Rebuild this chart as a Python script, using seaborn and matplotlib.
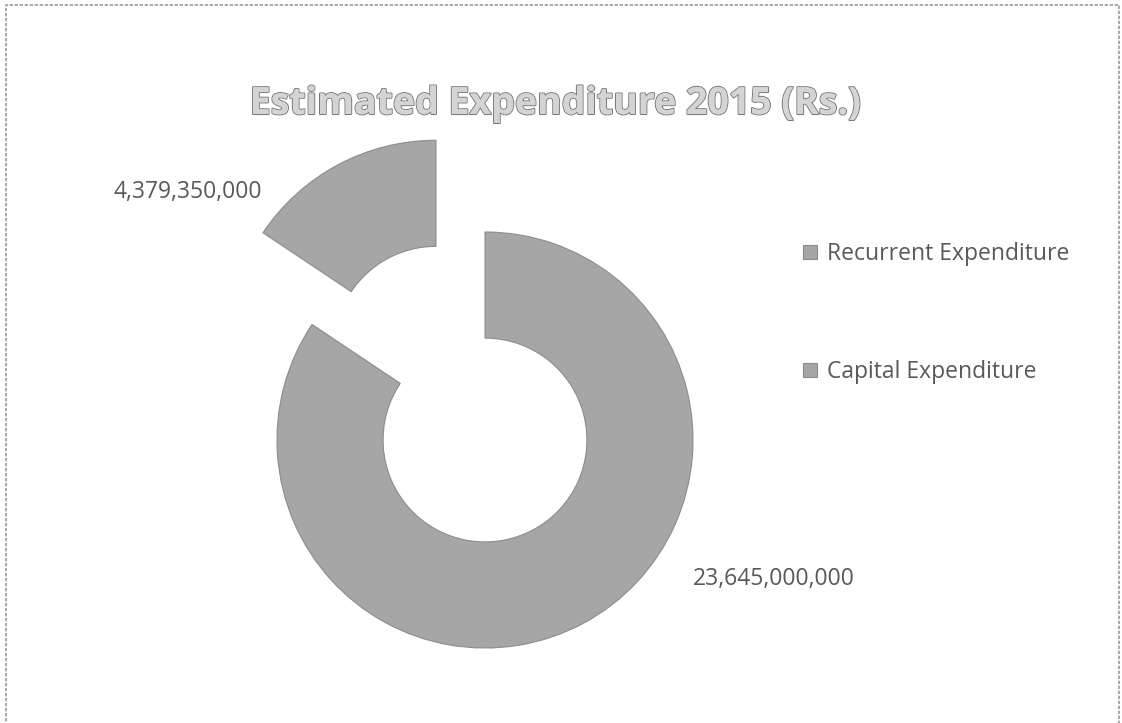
import matplotlib
matplotlib.use("Agg")
import matplotlib.pyplot as plt
import matplotlib.patheffects as pe
from matplotlib.patches import Rectangle
import seaborn as sns

# ─── Data ─────────────────────────────────────────────────────────────────────
categories = ["Recurrent Expenditure", "Capital Expenditure"]
amounts = [23645000000, 4379350000]
explode = [0.0, 0.5]

sns.set_theme(style="white")
plt.rcParams["font.family"] = ["Open Sans", "DejaVu Sans"]

SLICE = "#a6a6a6"
TEXT = "#595959"

fig = plt.figure(figsize=(11.22, 7.23), dpi=100)
W, H = 1122, 723

# pie centre (485, 440) px from top-left, radius 208 px
cx, cy, R = 485, 440, 208
xl, xr, yb, yt = -1.6, 1.6, -1.3, 1.6
ax = fig.add_axes([(cx + xl * R) / W, (H - cy + yb * R) / H,
                   (xr - xl) * R / W, (yt - yb) * R / H])

wedges, _ = ax.pie(amounts, startangle=90, counterclock=False, explode=explode,
                   colors=[SLICE, SLICE], radius=1.0,
                   wedgeprops=dict(width=0.51, edgecolor="#8c8c8c", linewidth=0.8))
ax.set_xlim(xl, xr)
ax.set_ylim(yb, yt)
ax.set_aspect("auto")
ax.axis("off")

# data labels
lbl_fmt = [f"{v:,}" for v in amounts]
ax.text(1.0, -0.67, lbl_fmt[0], ha="left", va="center", fontsize=16.5, color=TEXT)
ax.text(-1.07, 1.19, lbl_fmt[1], ha="right", va="center", fontsize=16.5, color=TEXT)

# title
fig.text(0.5 * (250 + 860) / W, 1 - 104 / H, "Estimated Expenditure 2015 (Rs.)",
         ha="center", va="center", fontsize=27, fontweight="bold", color="#d4d4d4",
         path_effects=[pe.withStroke(linewidth=1.5, foreground="#7a7a7a"), pe.Normal()])

# legend
leg = fig.legend(wedges, categories, loc="upper left",
                 bbox_to_anchor=(803 / W, 1 - 242 / H), frameon=False,
                 fontsize=16.5, labelcolor=TEXT, handlelength=0.6, handleheight=0.6,
                 handletextpad=0.45, labelspacing=4.1, borderpad=0, borderaxespad=0)

# chart border
fig.patches.append(Rectangle((6 / W, -0.01), (1119 - 6) / W, 1 - 5 / H + 0.01,
                             transform=fig.transFigure, fill=False,
                             edgecolor="#9a9a9a", linewidth=1.2, linestyle=(0, (2, 1))))

fig.savefig("out.png", dpi=100)
